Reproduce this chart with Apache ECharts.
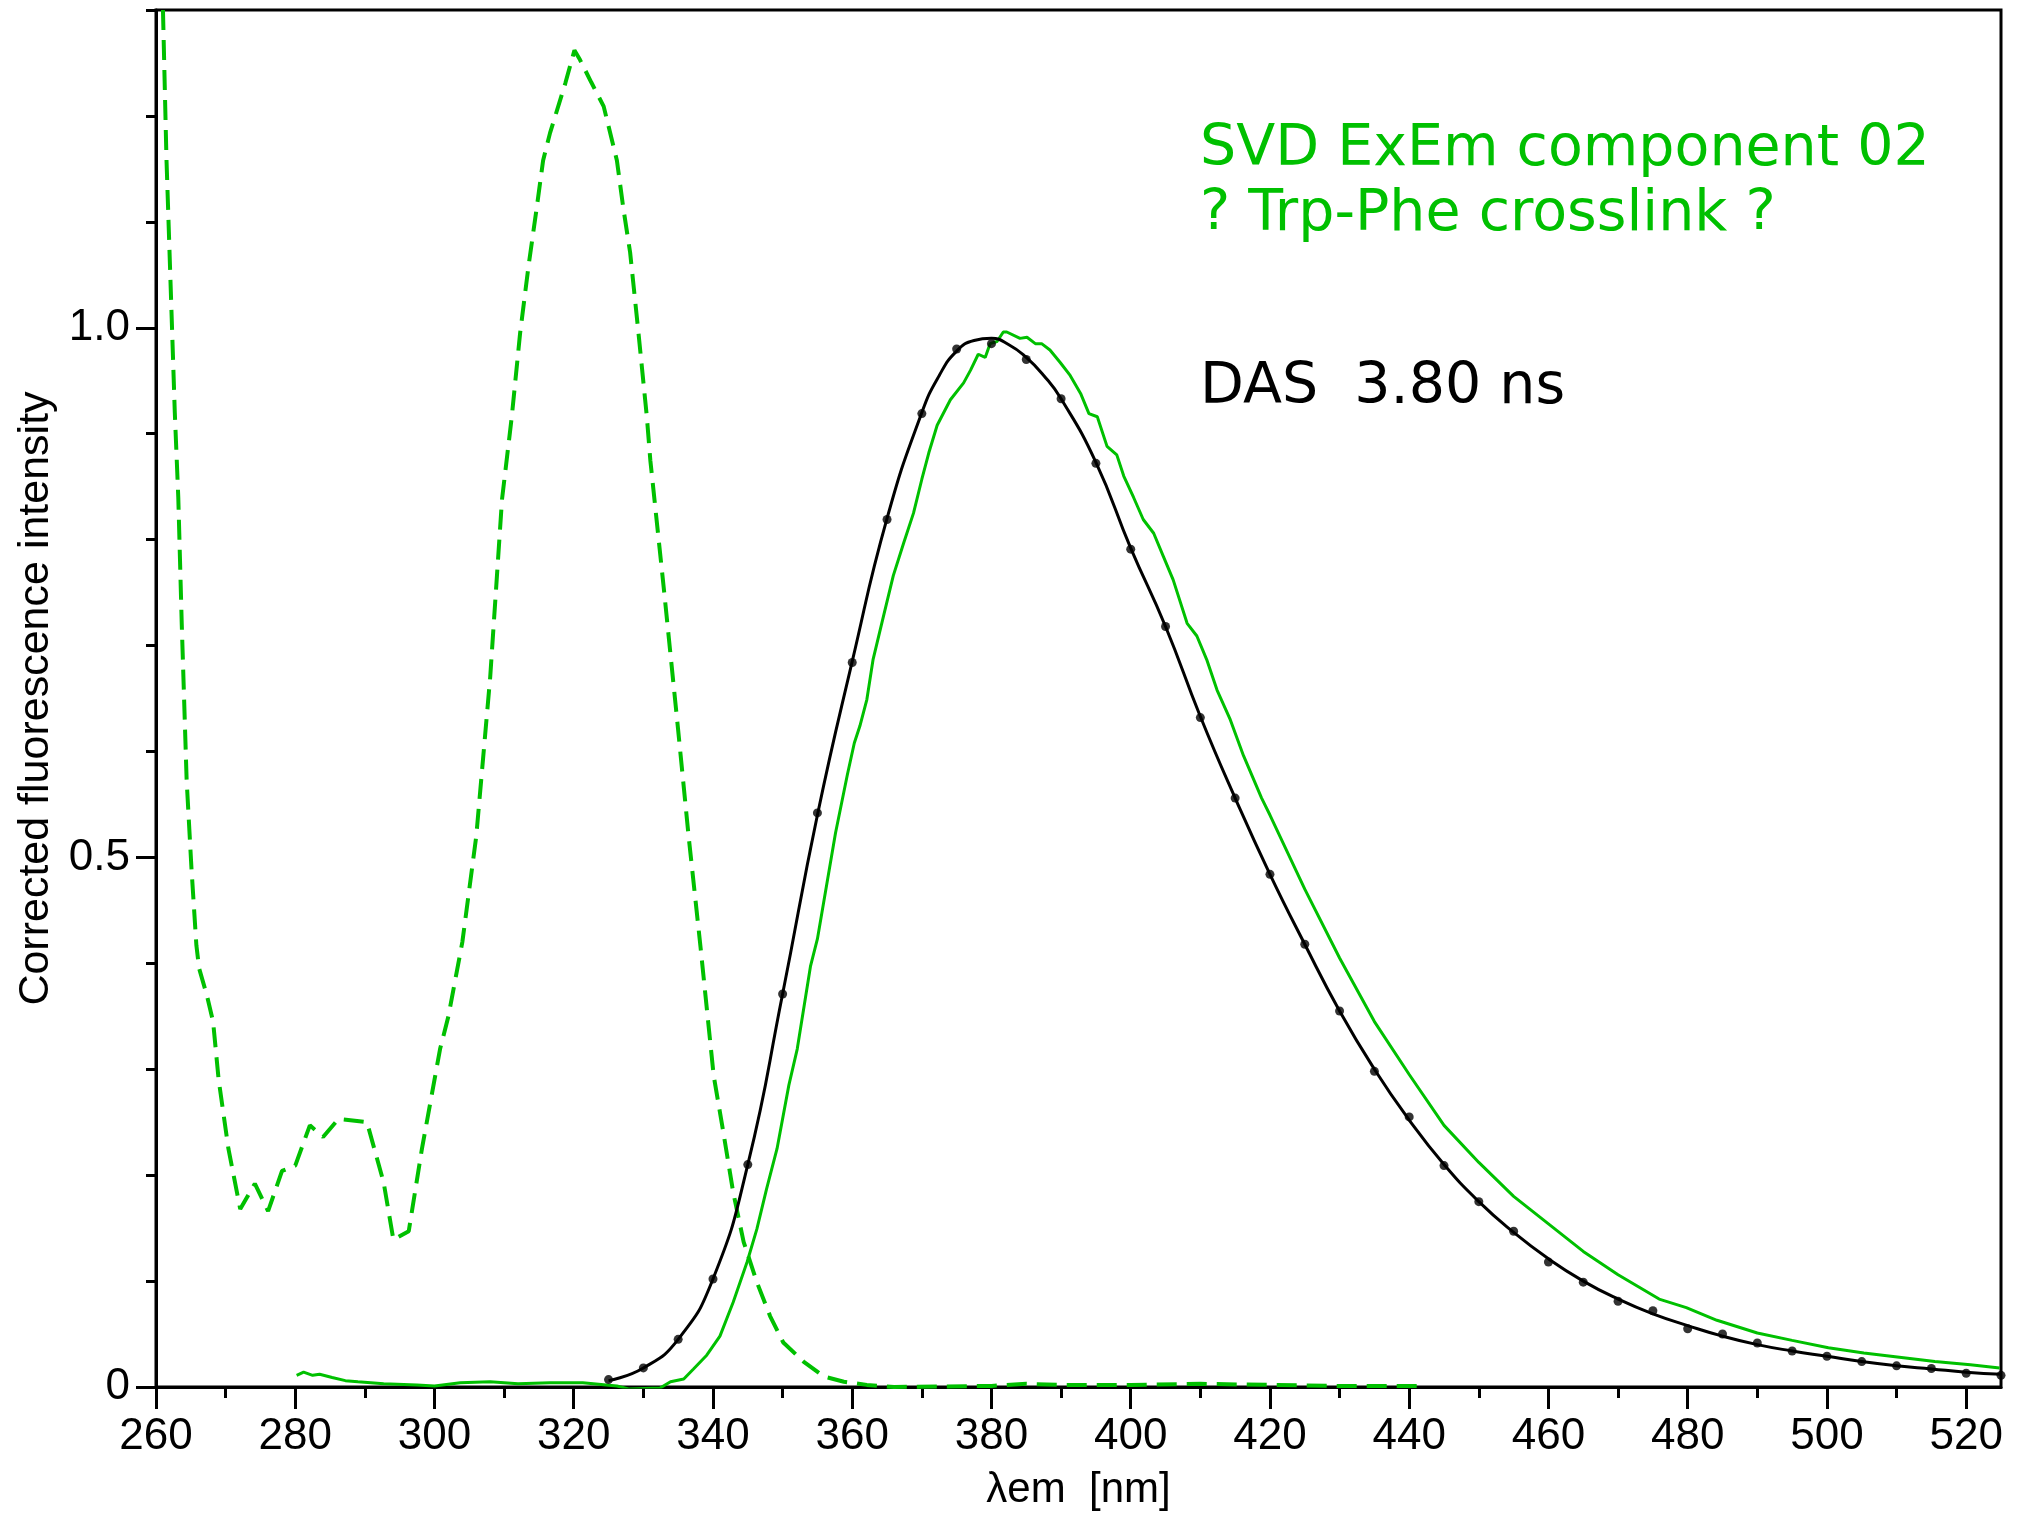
<!DOCTYPE html>
<html>
<head>
<meta charset="utf-8">
<script src="https://cdn.jsdelivr.net/npm/echarts@6/dist/echarts.min.js"></script>
<style>
html,body{margin:0;padding:0;background:#fff;}
#chart{width:2027px;height:1516px;}
</style>
</head>
<body>
<div id="chart"></div>
<script>
// ---- axis ranges / ticks ----
const xMin = 260, xMax = 525;
const yMin = 0, yMax = 1.3;
const xMajorTicks = [260, 280, 300, 320, 340, 360, 380, 400, 420, 440, 460, 480, 500, 520];
const xMinorTicks = [270, 290, 310, 330, 350, 370, 390, 410, 430, 450, 470, 490, 510];
const yMajorTicks = [0, 0.5, 1.0];
const yTickLabels = ['0', '0.5', '1.0'];
const yMinorTicks = [0.1, 0.2, 0.3, 0.4, 0.6, 0.7, 0.8, 0.9, 1.1, 1.2, 1.3];

// ---- excitation spectrum (green dashed) ----
const exX = [261.0, 261.5, 262.0, 262.7, 263.2, 263.7, 264.4, 265.1, 265.8, 266.2, 267.3, 268.2, 269.0, 270.4,
  272.1, 274.2, 276.1, 278.1, 280.0, 282.1, 284.0, 286.2, 290.3, 292.7, 294.1, 296.3, 298.2, 300.8,
  302.0, 304.0, 306.0, 308.0, 309.7, 311.1, 312.3, 313.5, 314.7, 315.6, 316.6, 318.8, 320.1, 320.9,
  322.5, 324.3, 326.2, 327.1, 328.1, 329.3, 330.5, 331.0, 333.0, 335.0, 336.5, 338.2, 340.1, 341.5,
  342.9, 344.4, 346.3, 348.2, 350.1, 353.0, 355.9, 358.8, 362.1, 366.0, 380.0, 385.0, 390.0, 400.0,
  410.0, 420.0, 430.0, 442.0];
const exY = [1.30, 1.16, 1.06, 0.92, 0.84, 0.72, 0.573, 0.489, 0.417, 0.395, 0.37, 0.345, 0.29, 0.225,
  0.168, 0.192, 0.166, 0.204, 0.209, 0.247, 0.236, 0.253, 0.250, 0.193, 0.139, 0.147, 0.225, 0.319,
  0.35, 0.42, 0.52, 0.67, 0.838, 0.916, 0.995, 1.058, 1.114, 1.158, 1.184, 1.231, 1.262, 1.253,
  1.232, 1.209, 1.158, 1.114, 1.071, 0.995, 0.916, 0.875, 0.75, 0.62, 0.52, 0.416, 0.294, 0.240,
  0.184, 0.137, 0.099, 0.067, 0.042, 0.024, 0.010, 0.005, 0.002, 0.0, 0.001, 0.003, 0.002, 0.002,
  0.003, 0.002, 0.001, 0.001];

// ---- emission spectrum (green solid) ----
const emX = [280.2, 281.2, 282.5, 283.5, 285.3, 287.2, 289.0, 292.7, 297.5, 300.0, 303.7, 308.0, 312.0,
  316.6, 321.3, 326.2, 328.0, 332.4, 333.9, 335.8, 337.2, 339.1, 341.0, 342.9, 344.9, 346.3, 347.7,
  349.2, 350.9, 352.1, 354.0, 355.0, 357.6, 359.3, 360.3, 361.1, 362.1, 363.0, 364.5, 365.9, 367.4,
  368.8, 370.0, 371.0, 372.2, 374.1, 376.0, 377.0, 378.1, 379.1, 379.8, 380.8, 381.7, 382.2, 384.1,
  385.1, 386.3, 387.2, 388.4, 389.9, 391.3, 392.8, 394.0, 395.2, 396.6, 398.0, 399.0, 400.4, 401.8,
  403.3, 404.7, 406.1, 408.1, 409.5, 410.9, 412.4, 414.3, 416.2, 418.8, 420.0, 425.0, 430.0, 435.0,
  440.0, 445.0, 450.0, 455.0, 460.0, 465.0, 470.0, 475.9, 479.8, 484.2, 490.0, 495.0, 500.2, 505.3,
  510.4, 515.5, 520.6, 524.8];
const emY = [0.011, 0.014, 0.011, 0.012, 0.009, 0.006, 0.005, 0.003, 0.002, 0.001, 0.004, 0.005, 0.003,
  0.004, 0.004, 0.001, -0.002, -0.001, 0.005, 0.0075, 0.017, 0.030, 0.048, 0.080, 0.118, 0.149, 0.187,
  0.225, 0.285, 0.319, 0.397, 0.423, 0.523, 0.578, 0.608, 0.624, 0.649, 0.687, 0.728, 0.766, 0.797,
  0.825, 0.857, 0.882, 0.908, 0.932, 0.948, 0.960, 0.975, 0.972, 0.985, 0.987, 0.996, 0.996, 0.990,
  0.991, 0.985, 0.985, 0.979, 0.967, 0.955, 0.938, 0.919, 0.916, 0.888, 0.880, 0.860, 0.840, 0.819,
  0.806, 0.784, 0.762, 0.721, 0.709, 0.687, 0.658, 0.630, 0.596, 0.556, 0.540, 0.470, 0.405, 0.345,
  0.295, 0.247, 0.212, 0.180, 0.154, 0.128, 0.106, 0.083, 0.075, 0.063, 0.051, 0.044, 0.037, 0.032,
  0.028, 0.024, 0.021, 0.018];

// ---- DAS: measured points every 5 nm (black dots) ----
const dasX = [325, 330, 335, 340, 345, 350, 355, 360, 365, 370, 375, 380, 385, 390, 395, 400, 405, 410,
  415, 420, 425, 430, 435, 440, 445, 450, 455, 460, 465, 470, 475, 480, 485, 490, 495, 500, 505, 510,
  515, 520, 525];
const dasY = [0.007, 0.018, 0.045, 0.102, 0.210, 0.371, 0.542, 0.684, 0.819, 0.919, 0.980, 0.985, 0.970,
  0.933, 0.872, 0.791, 0.718, 0.632, 0.556, 0.484, 0.418, 0.355, 0.298, 0.255, 0.209, 0.175, 0.147,
  0.118, 0.099, 0.081, 0.072, 0.055, 0.050, 0.0415, 0.034, 0.029, 0.024, 0.020, 0.0175, 0.013, 0.011];

// ---- DAS: fitted curve (black line) ----
const fitX = [325, 330, 335, 340, 345, 350, 355, 360, 365, 370, 372.5, 375, 377.5, 380, 382.5, 385, 387.5,
  390, 395, 400, 405, 410, 415, 420, 425, 430, 435, 440, 445, 450, 455, 460, 465, 470, 475, 480, 485,
  490, 495, 500, 505, 510, 515, 520, 525];
const fitY = [0.006, 0.018, 0.045, 0.102, 0.210, 0.371, 0.540, 0.685, 0.820, 0.920, 0.955, 0.978, 0.988,
  0.990, 0.984, 0.972, 0.955, 0.933, 0.873, 0.792, 0.718, 0.633, 0.556, 0.484, 0.418, 0.355, 0.300,
  0.252, 0.210, 0.175, 0.146, 0.121, 0.100, 0.083, 0.069, 0.058, 0.048, 0.040, 0.034, 0.029, 0.024,
  0.020, 0.017, 0.014, 0.012];

// ---- texts ----
const titleLine1 = 'SVD ExEm component 02';
const titleLine2 = '? Trp-Phe crosslink ?';
const dasText = 'DAS  3.80 ns';
const xName = 'λem  [nm]';
const yName = 'Corrected fluorescence intensity';

const GREEN = '#00c000';
const zip = (a, b) => a.map((v, i) => [v, b[i]]);
const labelFont = '"Liberation Sans", Arial, sans-serif';
const nameFont = '"Liberation Sans", Arial, sans-serif';

const chart = echarts.init(document.getElementById('chart'));
chart.setOption({
  animation: false,
  backgroundColor: '#fff',
  grid: { left: 156, top: 10, right: 26, bottom: 128, show: true, borderColor: '#000', borderWidth: 3 },
  xAxis: [
    {
      type: 'value', min: xMin, max: xMax, position: 'bottom',
      axisLine: { onZero: false, lineStyle: { color: '#000', width: 3 } },
      axisTick: { customValues: xMajorTicks, length: 22, lineStyle: { color: '#000', width: 3 } },
      axisLabel: { customValues: xMajorTicks, color: '#000', fontSize: 44, fontFamily: labelFont, margin: 28 },
      splitLine: { show: false },
      name: xName, nameLocation: 'middle', nameGap: 82,
      nameTextStyle: { color: '#000', fontSize: 42, fontFamily: nameFont }
    },
    {
      type: 'value', min: xMin, max: xMax, position: 'bottom',
      axisLine: { show: false },
      axisTick: { customValues: xMinorTicks, length: 11, lineStyle: { color: '#000', width: 3 } },
      axisLabel: { show: false },
      splitLine: { show: false }
    }
  ],
  yAxis: [
    {
      type: 'value', min: yMin, max: yMax, position: 'left',
      axisLine: { show: true, onZero: false, lineStyle: { color: '#000', width: 3 } },
      axisTick: { show: true, customValues: yMajorTicks, length: 20, lineStyle: { color: '#000', width: 3 } },
      axisLabel: {
        customValues: yMajorTicks, color: '#000', fontSize: 44, fontFamily: labelFont, margin: 26,
        formatter: v => yTickLabels[yMajorTicks.findIndex(t => Math.abs(t - v) < 1e-9)] ?? ''
      },
      splitLine: { show: false },
      name: yName, nameLocation: 'middle', nameGap: 94,
      nameTextStyle: { color: '#000', fontSize: 43, fontFamily: nameFont }
    },
    {
      type: 'value', min: yMin, max: yMax, position: 'left',
      axisLine: { show: false },
      axisTick: { show: true, customValues: yMinorTicks, length: 10, lineStyle: { color: '#000', width: 3 } },
      axisLabel: { show: false },
      splitLine: { show: false }
    }
  ],
  series: [
    {
      name: 'excitation', type: 'line', data: zip(exX, exY), showSymbol: false, clip: true, z: 2,
      lineStyle: { color: GREEN, width: 4, type: [20, 10] }
    },
    {
      name: 'emission', type: 'line', data: zip(emX, emY), showSymbol: false, clip: true, z: 3,
      lineStyle: { color: GREEN, width: 3 }
    },
    {
      name: 'DAS fit', type: 'line', data: zip(fitX, fitY), smooth: 0.5, showSymbol: false, clip: false, z: 4,
      lineStyle: { color: '#000', width: 3 }
    },
    {
      name: 'DAS points', type: 'scatter', data: zip(dasX, dasY), symbol: 'circle', symbolSize: 9, clip: false, z: 5,
      itemStyle: { color: '#000' }
    }
  ],
  graphic: [
    { type: 'text', x: 1200, y: 122, style: { text: titleLine1, fill: GREEN, font: '57px "DejaVu Sans"', verticalAlign: 'top' } },
    { type: 'text', x: 1200, y: 187, style: { text: titleLine2, fill: GREEN, font: '57px "DejaVu Sans"', verticalAlign: 'top' } },
    { type: 'text', x: 1200, y: 360, style: { text: dasText, fill: '#000', font: '57px "DejaVu Sans"', verticalAlign: 'top' } }
  ]
});
</script>
</body>
</html>
